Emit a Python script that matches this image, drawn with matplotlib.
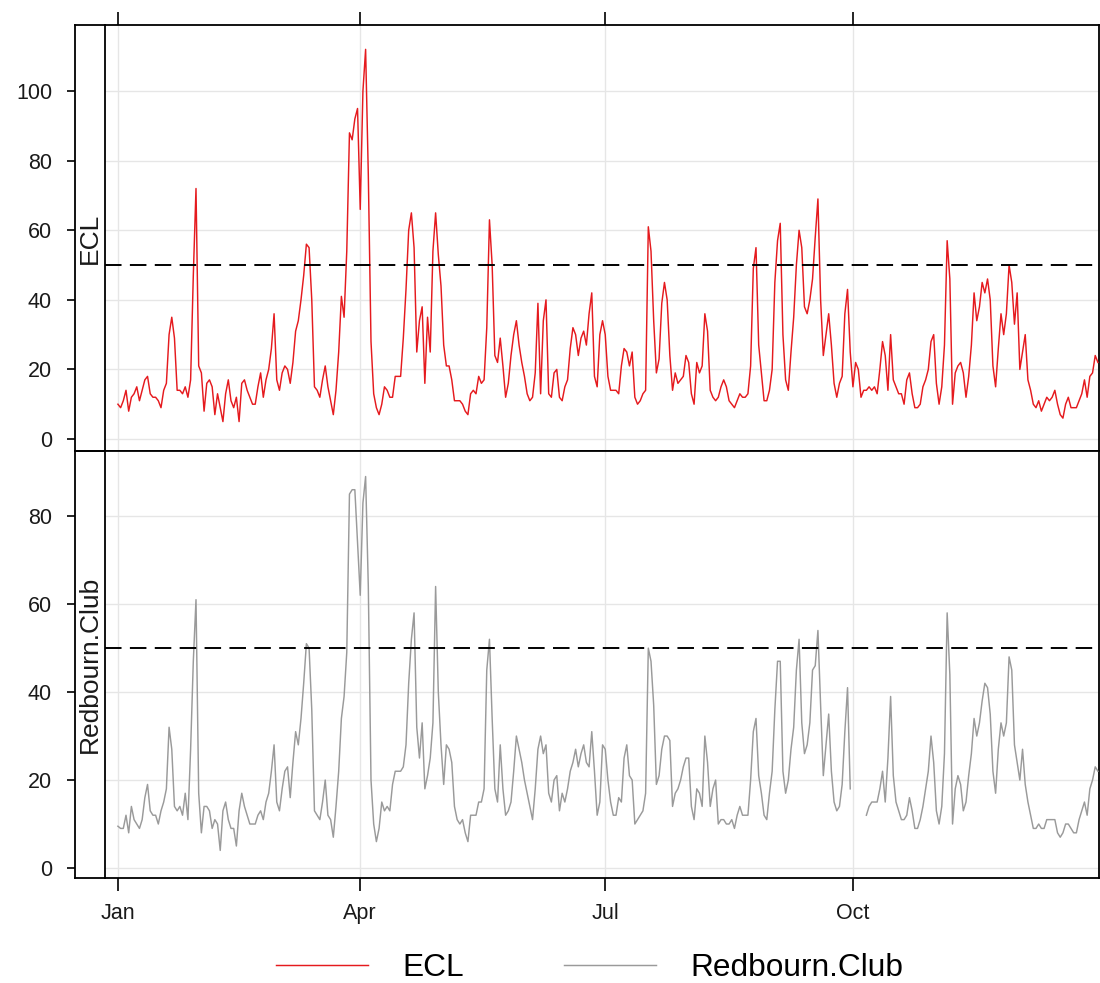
import numpy as np
import matplotlib
matplotlib.use("Agg")
import matplotlib.pyplot as plt
import matplotlib.dates as mdates

plt.rcParams['font.family'] = ['Liberation Sans', 'DejaVu Sans']

series_names = ["ECL", "Redbourn.Club"]
series_colors = ["#E51A1E", "#9A9A9A"]
month_ticks = ["2015-01-01", "2015-04-01", "2015-07-01", "2015-10-01"]
month_labels = ["Jan", "Apr", "Jul", "Oct"]
threshold = 50

ecl = [
    10, 9, 11, 14, 8, 12, 13, 15, 11, 14,
    17, 18, 13, 12, 12, 11, 9, 14, 16, 30,
    35, 29, 14, 14, 13, 15, 12, 17, 47, 72,
    21, 19, 8, 16, 17, 15, 7, 13, 9, 5,
    13, 17, 11, 9, 12, 5, 16, 17, 14, 12,
    10, 10, 15, 19, 12, 17, 20, 26, 36, 17,
    14, 19, 21, 20, 16, 22, 31, 34, 40, 47,
    56, 55, 40, 15, 14, 12, 17, 21, 15, 11,
    7, 14, 25, 41, 35, 54, 88, 86, 92, 95,
    66, 100, 112, 76, 28, 13, 9, 7, 10, 15,
    14, 12, 12, 18, 18, 18, 29, 43, 60, 65,
    55, 25, 34, 38, 16, 35, 25, 54, 65, 53,
    44, 27, 21, 21, 17, 11, 11, 11, 10, 8,
    7, 13, 14, 13, 18, 16, 17, 32, 63, 50,
    24, 22, 29, 21, 12, 16, 24, 30, 34, 27,
    22, 18, 13, 11, 12, 19, 39, 13, 34, 40,
    13, 12, 19, 20, 12, 11, 15, 17, 26, 32,
    30, 24, 29, 31, 27, 36, 42, 18, 15, 30,
    34, 30, 18, 14, 14, 14, 13, 21, 26, 25,
    21, 25, 12, 10, 11, 13, 14, 61, 54, 34,
    19, 23, 39, 45, 40, 24, 14, 19, 16, 17,
    18, 24, 22, 13, 10, 22, 19, 21, 36, 31,
    14, 12, 11, 12, 15, 17, 15, 11, 10, 9,
    11, 13, 12, 12, 13, 21, 49, 55, 27, 19,
    11, 11, 14, 20, 45, 57, 62, 30, 17, 14,
    25, 35, 50, 60, 55, 38, 36, 40, 46, 58,
    69, 40, 24, 30, 36, 27, 16, 12, 16, 18,
    36, 43, 25, 15, 22, 20, 12, 14, 14, 15,
    14, 15, 13, 20, 28, 24, 14, 30, 17, 15,
    13, 13, 10, 17, 19, 13, 9, 9, 10, 15,
    17, 20, 28, 30, 16, 10, 15, 27, 57, 46,
    10, 19, 21, 22, 19, 12, 18, 27, 42, 34,
    38, 45, 42, 46, 40, 21, 15, 26, 36, 30,
    36, 50, 45, 33, 42, 20, 25, 30, 17, 14,
    10, 9, 11, 8, 10, 12, 11, 12, 14, 10,
    7, 6, 10, 12, 9, 9, 9, 11, 13, 17,
    12, 18, 19, 24, 22,
]

redbourn = [
    9.5, 9, 9, 12, 8, 14, 11, 10, 9, 11,
    16, 19, 13, 12, 12, 10, 13, 15, 18, 32,
    27, 14, 13, 14, 12, 17, 11, 27, 47, 61,
    17, 8, 14, 14, 13, 9, 11, 10, 4, 13,
    15, 11, 9, 9, 5, 13, 17, 14, 12, 10,
    10, 10, 12, 13, 11, 15, 17, 22, 28, 15,
    13, 18, 22, 23, 16, 24, 31, 28, 34, 42,
    51, 50, 36, 13, 12, 11, 15, 20, 12, 11,
    7, 14, 22, 34, 39, 49, 85, 86, 86, 74,
    62, 83, 89, 64, 20, 10, 6, 9, 15, 13,
    14, 13, 19, 22, 22, 22, 23, 28, 42, 52,
    58, 32, 25, 33, 18, 21, 25, 33, 64, 40,
    28, 19, 28, 27, 24, 14, 11, 10, 11, 8,
    6, 12, 12, 12, 15, 15, 18, 45, 52, 34,
    18, 15, 28, 18, 12, 13, 15, 22, 30, 27,
    24, 20, 17, 14, 11, 18, 27, 30, 26, 28,
    17, 15, 20, 21, 13, 17, 15, 18, 22, 24,
    27, 23, 26, 28, 24, 23, 31, 22, 12, 15,
    28, 27, 20, 15, 12, 12, 16, 15, 25, 28,
    21, 20, 10, 11, 12, 13, 17, 50, 47, 37,
    19, 21, 27, 30, 30, 29, 14, 17, 18, 20,
    23, 25, 25, 14, 11, 18, 17, 14, 30, 24,
    14, 18, 20, 10, 11, 11, 10, 10, 11, 9,
    12, 14, 12, 12, 12, 20, 31, 34, 21, 17,
    12, 11, 17, 22, 36, 47, 47, 22, 17, 20,
    27, 32, 45, 52, 33, 26, 28, 33, 45, 46,
    54, 37, 21, 28, 35, 22, 15, 13, 14, 19,
    31, 41, 18, None, None, None, None, None, 12, 14,
    15, 15, 15, 18, 22, 15, 25, 39, 21, 15,
    13, 11, 11, 12, 16, 13, 9, 9, 11, 14,
    18, 22, 30, 24, 13, 10, 14, 26, 58, 44,
    10, 18, 21, 19, 13, 15, 21, 26, 34, 30,
    33, 38, 42, 41, 35, 22, 17, 27, 33, 30,
    33, 48, 45, 28, 24, 20, 27, 19, 15, 12,
    9, 9, 10, 9, 9, 11, 11, 11, 11, 8,
    7, 8, 10, 10, 9, 8, 8, 11, 13, 15,
    12, 18, 20, 23, 22,
]

assert len(ecl) == 365 and len(redbourn) == 365

dates = np.arange(np.datetime64("2015-01-01"), np.datetime64("2016-01-01"))
series_values = [
    np.array(ecl, dtype=float),
    np.array([np.nan if v is None else v for v in redbourn], dtype=float),
]

W, H = 1100, 983
fig = plt.figure(figsize=(W / 100, H / 100), dpi=100)


def box(x0, y0, x1, y1):
    return [x0 / W, 1 - y1 / H, (x1 - x0) / W, (y1 - y0) / H]


x_start = mdates.date2num(np.datetime64("2015-01-01")) - 4.8
x_end = mdates.date2num(np.datetime64("2015-01-01")) + 364.4

panels = [
    dict(y0=25, y1=451, ylim=(-3.45, 119.0), yticks=[0, 20, 40, 60, 80, 100]),
    dict(y0=451, y1=878, ylim=(-2.27, 94.8), yticks=[0, 20, 40, 60, 80]),
]

tick_fs = 15.5
tick_col = "#1a1a1a"
lw_frame = 1.3
handles = []
for i, (name, vals, col, p) in enumerate(zip(series_names, series_values, series_colors, panels)):
    strip = fig.add_axes(box(75, p["y0"], 105, p["y1"]))
    ax = fig.add_axes(box(105, p["y0"], 1099, p["y1"]))
    strip.sharey(ax)
    strip.patch.set_visible(False)

    ln, = ax.plot(dates, vals, color=col, lw=1.05, zorder=3)
    handles.append(ln)
    ax.axhline(threshold, color="black", lw=1.4, ls=(0, (8.5, 4.3)), zorder=4)

    ax.set_xlim(x_start, x_end)
    ax.set_ylim(*p["ylim"])
    ax.set_xticks(mdates.date2num(np.array(month_ticks, dtype="datetime64[D]")))
    ax.set_yticks(p["yticks"])
    ax.grid(True, color="#E6E6E6", lw=1.0, zorder=0)
    ax.set_axisbelow(True)
    for s in ax.spines.values():
        s.set_linewidth(lw_frame)
    ax.tick_params(axis="y", left=False, labelleft=False)
    if i == 0:
        ax.tick_params(axis="x", top=True, bottom=False, labeltop=False,
                       labelbottom=False, direction="out", length=9.5, width=1.2)
    else:
        ax.tick_params(axis="x", top=False, bottom=True, labelbottom=True,
                       direction="out", length=9, width=1.2, labelsize=tick_fs,
                       pad=9, labelcolor=tick_col)
        ax.set_xticklabels(month_labels)

    strip.set_xticks([])
    strip.spines["right"].set_visible(False)
    for s in strip.spines.values():
        s.set_linewidth(lw_frame)
    strip.tick_params(axis="y", left=True, labelleft=True, direction="out",
                      length=5.5, width=1.2, labelsize=tick_fs, pad=11,
                      labelcolor=tick_col)
    strip.set_yticks(p["yticks"])
    strip.text(0.5, 0.5, name, rotation=90, ha="center", va="center",
               transform=strip.transAxes, fontsize=19, color=tick_col)

fig.legend(handles, series_names, loc="center", bbox_to_anchor=(590 / W, 1 - 968 / H),
           ncol=2, frameon=False, fontsize=22.8, handlelength=2.9, handletextpad=1.1,
           columnspacing=3.15)

fig.savefig("out.png", dpi=100)
